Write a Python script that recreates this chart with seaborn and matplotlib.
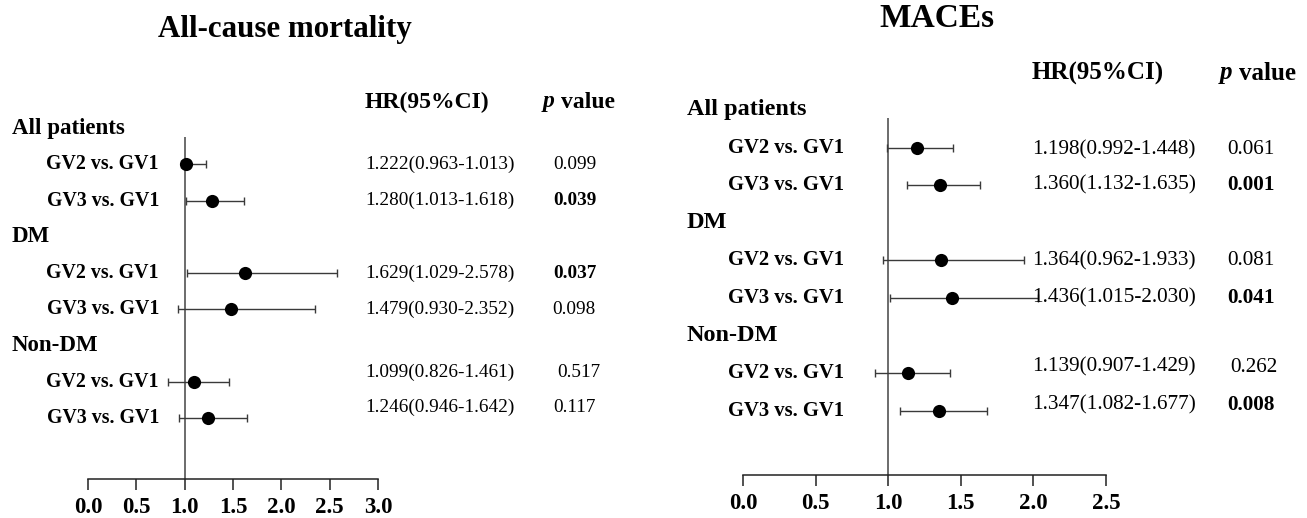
import matplotlib
matplotlib.use('Agg')
import matplotlib.pyplot as plt
import matplotlib.transforms as mtrans
import pandas as pd
import seaborn as sns

# ---- data ----
groups = ['All patients', 'DM', 'Non-DM']
comparisons = ['GV2 vs. GV1', 'GV3 vs. GV1']

# All-cause mortality (plotted values as drawn in the original figure)
mort_hr = [1.013, 1.280, 1.629, 1.479, 1.099, 1.246]
mort_lo = [0.963, 1.013, 1.029, 0.930, 0.826, 0.946]
mort_hi = [1.222, 1.618, 2.578, 2.352, 1.461, 1.642]
mort_ci_text = ['1.222(0.963-1.013)', '1.280(1.013-1.618)', '1.629(1.029-2.578)',
                '1.479(0.930-2.352)', '1.099(0.826-1.461)', '1.246(0.946-1.642)']
mort_p = ['0.099', '0.039', '0.037', '0.098', '0.517', '0.117']
mort_sig = [False, True, True, False, False, False]

# MACEs
mace_hr = [1.198, 1.360, 1.364, 1.436, 1.139, 1.347]
mace_lo = [0.992, 1.132, 0.962, 1.015, 0.907, 1.082]
mace_hi = [1.448, 1.635, 1.933, 2.030, 1.429, 1.677]
mace_ci_text = ['1.198(0.992-1.448)', '1.360(1.132-1.635)', '1.364(0.962-1.933)',
                '1.436(1.015-2.030)', '1.139(0.907-1.429)', '1.347(1.082-1.677)']
mace_p = ['0.061', '0.001', '0.081', '0.041', '0.262', '0.008']
mace_sig = [False, True, False, True, False, True]

mort_ticks = [0.0, 0.5, 1.0, 1.5, 2.0, 2.5, 3.0]
mace_ticks = [0.0, 0.5, 1.0, 1.5, 2.0, 2.5]

W, H = 1307, 518
SERIF = ['Liberation Serif', 'DejaVu Serif']

sns.set_theme(style='white')
plt.rcParams['font.family'] = SERIF
plt.rcParams['text.color'] = 'black'
plt.rcParams['xtick.color'] = 'black'


def build_rows(hr, lo, hi):
    # rows 0..8: header, comp, comp, header, ...
    recs = []
    for gi, g in enumerate(groups):
        for ci, c in enumerate(comparisons):
            k = gi * 2 + ci
            recs.append(dict(group=g, comp=c, row=gi * 3 + ci + 1,
                             hr=hr[k], lo=lo[k], hi=hi[k]))
    return pd.DataFrame(recs)


def draw_panel(fig, box, xlim, ticks, df, ci_text, pvals, sig, lay):
    x0, x1, top, bottom = box
    ax = fig.add_axes([x0 / W, 1 - bottom / H, (x1 - x0) / W, (bottom - top) / H])
    r0, step = lay['row0'], lay['step']
    ax.set_ylim((bottom - r0) / step, (top - r0) / step)
    ax.set_xlim(*xlim)

    ax.axvline(1.0, color='#444444', lw=1.1, zorder=1)
    ax.errorbar(df['hr'], df['row'],
                xerr=[df['hr'] - df['lo'], df['hi'] - df['hr']],
                fmt='none', ecolor='#3a3a3a', elinewidth=1.0, capsize=3,
                capthick=1.0, zorder=2, clip_on=False)
    sns.scatterplot(data=df, x='hr', y='row', ax=ax, color='black', s=90,
                    edgecolor='black', linewidth=0, zorder=3, clip_on=False,
                    legend=False)

    for s in ['left', 'top', 'right']:
        ax.spines[s].set_visible(False)
    ax.spines['bottom'].set_color('#222222')
    ax.spines['bottom'].set_linewidth(1.1)
    ax.set_yticks([])
    ax.set_xticks(ticks)
    ax.set_xticklabels([f'{t:.1f}' for t in ticks], fontsize=lay['tick_fs'],
                       fontweight='bold', color='black')
    ax.tick_params(axis='x', direction='out', length=8, width=1.1,
                   color='#222222', pad=5, bottom=True)
    ax.set_xlabel('')
    ax.set_ylabel('')

    tr = mtrans.blended_transform_factory(fig.transFigure, ax.transData)
    for gi, g in enumerate(groups):
        ax.text(lay['head_x'] / W, gi * 3, g, transform=tr, ha='left',
                va='center', fontsize=lay['head_fs'], fontweight='bold')
    for k, row in df.iterrows():
        ax.text(lay['lab_x'] / W, row['row'], row['comp'], transform=tr,
                ha='right', va='center', fontsize=lay['lab_fs'],
                fontweight='bold')
        ty = row['row'] + lay['text_shift'][k]
        ax.text(lay['ci_x'] / W, ty, ci_text[k], transform=tr, ha='left',
                va='center', fontsize=lay['ci_fs'])
        ax.text(lay['p_x'][k] / W, ty, pvals[k], transform=tr, ha='left',
                va='center', fontsize=lay['ci_fs'],
                fontweight='bold' if sig[k] else 'normal')

    # column headers
    hy = 1 - lay['hdr_y'] / H
    fig.text(lay['ci_x'] / W, hy, 'HR(95%CI)', ha='left', va='center',
             fontsize=lay['hdr_fs'], fontweight='bold')
    fig.text(lay['phdr_x'] / W, hy, 'p', ha='left', va='center',
             fontsize=lay['hdr_fs'], fontweight='bold', style='italic')
    fig.text((lay['phdr_x'] + lay['phdr_gap']) / W, hy, 'value', ha='left',
             va='center', fontsize=lay['hdr_fs'], fontweight='bold')
    fig.text(lay['title_x'] / W, 1 - lay['title_y'] / H, lay['title'],
             ha='center', va='baseline', fontsize=lay['title_fs'],
             fontweight='bold')
    return ax


fig = plt.figure(figsize=(W / 100, H / 100), dpi=100)

mort_df = build_rows(mort_hr, mort_lo, mort_hi)
draw_panel(fig, (88, 378, 137, 479), (0, 3.0), mort_ticks, mort_df,
           mort_ci_text, mort_p, mort_sig,
           dict(row0=128, step=36.25, tick_fs=16.5, head_fs=16.5, head_x=12,
                lab_fs=14.3, lab_x=159, ci_fs=13.9, ci_x=365,
                p_x=[553, 553, 553, 552, 557, 553],
                text_shift=[0, 0, 0, 0, -0.25, -0.3],
                hdr_y=102, hdr_fs=17, phdr_x=543, phdr_gap=18,
                title='All-cause mortality', title_x=285, title_y=37,
                title_fs=22.3))

mace_df = build_rows(mace_hr, mace_lo, mace_hi)
draw_panel(fig, (743, 1106, 118, 475), (0, 2.5), mace_ticks, mace_df,
           mace_ci_text, mace_p, mace_sig,
           dict(row0=110, step=37.6, tick_fs=16.5, head_fs=17.5, head_x=687,
                lab_fs=14.9, lab_x=844, ci_fs=15.3, ci_x=1032,
                p_x=[1227, 1227, 1227, 1227, 1230, 1227],
                text_shift=[0.05, 0, 0, 0, -0.16, -0.16],
                hdr_y=73, hdr_fs=18, phdr_x=1220, phdr_gap=19,
                title='MACEs', title_x=937, title_y=27, title_fs=24))

fig.savefig('out.png', dpi=100, facecolor='white')
